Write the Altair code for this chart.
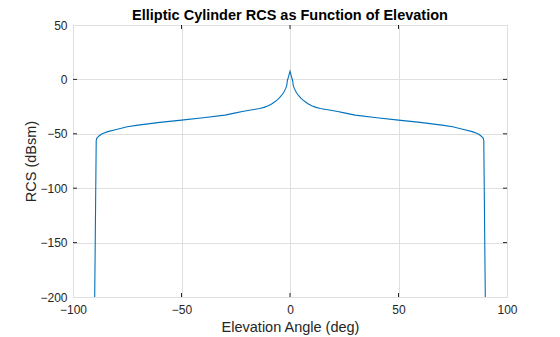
import altair as alt
import pandas as pd

# Elevation angle (deg) and RCS (dBsm)
left_angle = [-90, -89.3, -89, -88, -87, -86, -84, -80, -75, -70, -60, -50, -40, -30, -25,
              -22, -18, -14, -12, -10, -8.5, -7.5, -6, -5, -4, -3, -2, -1.5, -1.2, -0.6, -0.3]
left_rcs = [-200, -56, -54, -52, -50.5, -49.5, -48, -46, -43.5, -42, -39.5, -37.4, -35.3, -32.8, -30.8,
            -29.5, -28.2, -26.8, -25.7, -24.2, -22.6, -21.2, -19, -17.3, -15, -12.3, -8.5, -5.5, -1, 3, 5.5]
peak_angle = [0]
peak_rcs = [7.5]
right_angle = [0.3, 0.6, 1.2, 1.5, 2, 3, 4, 5, 6, 7.5, 8.5, 10, 12, 14, 18, 22, 25, 30, 40, 50, 60,
               70, 75, 80, 84, 86, 87, 88, 89, 89.3, 90]
right_rcs = [5.5, 3, -1, -5.5, -8.5, -12.3, -15, -17.3, -19, -21.2, -22.6, -24.2, -25.7, -26.8, -28.2,
             -29.5, -30.8, -32.8, -35.3, -37.4, -39.5, -42, -43.5, -46, -48, -49.5, -50.5, -52, -54, -56, -200]

x_ticks = [-100, -50, 0, 50, 100]
y_ticks = [-200, -150, -100, -50, 0, 50]

angles = left_angle + peak_angle + right_angle
rcs = left_rcs + peak_rcs + right_rcs
df = pd.DataFrame({"angle": angles, "rcs": rcs, "order": list(range(len(angles)))})

W, H = 434, 272
AX = "#262626"
FONT = "Liberation Sans"

xscale = alt.Scale(domain=[-100, 100], nice=False, zero=False)
yscale = alt.Scale(domain=[-200, 50], nice=False, zero=False)

line = alt.Chart(df).mark_line(color="#0072BD", strokeWidth=1.1, clip=True).encode(
    x=alt.X("angle:Q", scale=xscale,
            axis=alt.Axis(values=x_ticks, title="Elevation Angle (deg)", grid=True,
                          gridColor="#DFDFDF", gridWidth=1, tickSize=0, labelPadding=7,
                          labelFlush=False, labelOverlap=False,
                          domain=False, labelColor=AX, labelFont=FONT, labelFontSize=12,
                          titleFont=FONT, titleFontSize=14.5, titleFontWeight="normal",
                          titleColor=AX, titlePadding=5)),
    y=alt.Y("rcs:Q", scale=yscale,
            axis=alt.Axis(values=y_ticks, title="RCS (dBsm)", grid=True,
                          gridColor="#DFDFDF", gridWidth=1, tickSize=0, labelPadding=6,
                          labelFlush=False, labelOverlap=False,
                          domain=False, labelColor=AX, labelFont=FONT, labelFontSize=12,
                          titleFont=FONT, titleFontSize=14.5, titleFontWeight="normal",
                          titleColor=AX, titlePadding=1)),
    order="order:Q",
)

xt = pd.DataFrame({"v": x_ticks[1:-1]})
yt = pd.DataFrame({"v": y_ticks[1:-1]})
tick_len = 4

xticks_bottom = alt.Chart(xt).mark_rule(color=AX, strokeWidth=1).encode(
    x=alt.X("v:Q", scale=xscale), y=alt.value(H), y2=alt.value(H - tick_len))
xticks_top = alt.Chart(xt).mark_rule(color=AX, strokeWidth=1).encode(
    x=alt.X("v:Q", scale=xscale), y=alt.value(0), y2=alt.value(tick_len))
yticks_left = alt.Chart(yt).mark_rule(color=AX, strokeWidth=1).encode(
    y=alt.Y("v:Q", scale=yscale), x=alt.value(0), x2=alt.value(tick_len))
yticks_right = alt.Chart(yt).mark_rule(color=AX, strokeWidth=1).encode(
    y=alt.Y("v:Q", scale=yscale), x=alt.value(W), x2=alt.value(W - tick_len))

chart = alt.layer(line, xticks_bottom, xticks_top, yticks_left, yticks_right).properties(
    width=W, height=H,
    title=alt.TitleParams("Elliptic Cylinder RCS as Function of Elevation",
                          font=FONT, fontSize=14.5, fontWeight="bold", color="#000000",
                          anchor="middle", offset=-4),
    padding={"left": 73, "top": 25, "right": 53, "bottom": 40},
    autosize=alt.AutoSizeParams(type="none"),
).configure_view(stroke=AX, strokeWidth=1).configure(background="white")

chart.save("out.html", embed_options={"renderer": "svg", "actions": False})
